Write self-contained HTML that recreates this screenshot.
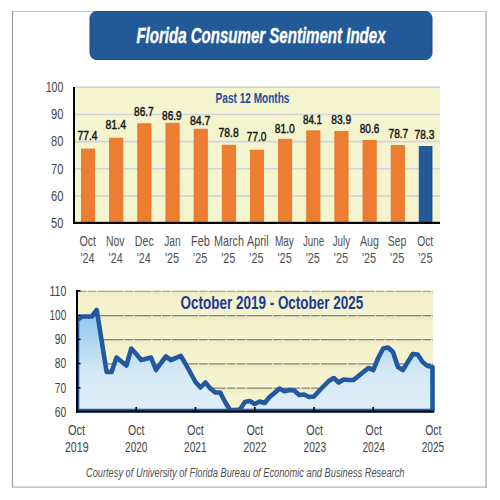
<!DOCTYPE html>
<html><head><meta charset="utf-8"><style>
html,body{margin:0;padding:0;background:#fff;width:500px;height:500px;overflow:hidden}
svg{display:block}
</style></head><body>
<svg width="500" height="500" viewBox="0 0 500 500">
<defs><linearGradient id="fillg" x1="0" y1="0" x2="0" y2="1"><stop offset="0" stop-color="#8cc4ea"/><stop offset="0.62" stop-color="#d5e9f6"/><stop offset="1" stop-color="#deeef8"/></linearGradient><linearGradient id="bandg" x1="0" y1="0" x2="0" y2="1"><stop offset="0" stop-color="#ebeac4"/><stop offset="1" stop-color="#f4f3cd"/></linearGradient><clipPath id="pc"><rect x="76" y="280" width="364" height="132.6"/></clipPath></defs>
<rect x="0" y="0" width="500" height="500" fill="#ffffff"/>
<line x1="12" y1="11.5" x2="486" y2="11.5" stroke="#c8c8c8" stroke-width="1"/>
<line x1="12.5" y1="11" x2="12.5" y2="487.6" stroke="#a2a2a2" stroke-width="1.3"/>
<line x1="486" y1="11" x2="486" y2="488" stroke="#c6c6c6" stroke-width="2"/>
<line x1="12" y1="487.1" x2="487" y2="487.1" stroke="#b4b4b4" stroke-width="1.3"/>
<rect x="90" y="11.5" width="342" height="48" rx="6.5" ry="6.5" fill="#225a97" stroke="#1a4b92" stroke-width="1"/>
<rect x="74" y="87" width="366" height="136" fill="#f4f4cf"/>
<line x1="74" y1="87.30" x2="440" y2="87.30" stroke="#cfcfd0" stroke-width="1.6"/>
<line x1="74" y1="114.44" x2="440" y2="114.44" stroke="#d2d3dc" stroke-width="1.6"/>
<line x1="74" y1="141.58" x2="440" y2="141.58" stroke="#d2d3dc" stroke-width="1.6"/>
<line x1="74" y1="168.72" x2="440" y2="168.72" stroke="#d2d3dc" stroke-width="1.6"/>
<line x1="74" y1="195.86" x2="440" y2="195.86" stroke="#d2d3dc" stroke-width="1.6"/>
<rect x="81.48" y="149.04" width="13.20" height="74.36" fill="#ed7d31" stroke="#e5721f" stroke-width="0.8"/>
<rect x="109.63" y="138.18" width="13.20" height="85.22" fill="#ed7d31" stroke="#e5721f" stroke-width="0.8"/>
<rect x="137.78" y="123.80" width="13.20" height="99.60" fill="#ed7d31" stroke="#e5721f" stroke-width="0.8"/>
<rect x="165.94" y="123.25" width="13.20" height="100.15" fill="#ed7d31" stroke="#e5721f" stroke-width="0.8"/>
<rect x="194.09" y="129.22" width="13.20" height="94.18" fill="#ed7d31" stroke="#e5721f" stroke-width="0.8"/>
<rect x="222.25" y="145.24" width="13.20" height="78.16" fill="#ed7d31" stroke="#e5721f" stroke-width="0.8"/>
<rect x="250.40" y="150.12" width="13.20" height="73.28" fill="#ed7d31" stroke="#e5721f" stroke-width="0.8"/>
<rect x="278.55" y="139.27" width="13.20" height="84.13" fill="#ed7d31" stroke="#e5721f" stroke-width="0.8"/>
<rect x="306.71" y="130.85" width="13.20" height="92.55" fill="#ed7d31" stroke="#e5721f" stroke-width="0.8"/>
<rect x="334.86" y="131.40" width="13.20" height="92.00" fill="#ed7d31" stroke="#e5721f" stroke-width="0.8"/>
<rect x="363.02" y="140.35" width="13.20" height="83.05" fill="#ed7d31" stroke="#e5721f" stroke-width="0.8"/>
<rect x="391.17" y="145.51" width="13.20" height="77.89" fill="#ed7d31" stroke="#e5721f" stroke-width="0.8"/>
<rect x="419.20" y="146.59" width="12.80" height="76.81" fill="#245a99" stroke="#0f4196" stroke-width="0.8"/>
<rect x="73" y="87" width="2" height="137" fill="#000"/>
<rect x="73" y="221.8" width="367" height="2.2" fill="#000"/>
<rect x="78" y="291" width="355" height="120.5" fill="#f4f3cd"/>
<rect x="78" y="291.90" width="355" height="6" fill="url(#bandg)"/>
<line x1="78" y1="290.20" x2="433" y2="290.20" stroke="#fcfce6" stroke-width="1"/>
<line x1="78" y1="291.30" x2="433" y2="291.30" stroke="#a9a796" stroke-width="1.25" stroke-dasharray="8.5 1.2 8.5 1.2 26 1.2 8.5 1.2 17 1.2"/>
<rect x="78" y="316.10" width="355" height="6" fill="url(#bandg)"/>
<line x1="78" y1="314.40" x2="433" y2="314.40" stroke="#fcfce6" stroke-width="1"/>
<line x1="78" y1="315.50" x2="433" y2="315.50" stroke="#84826f" stroke-width="1.25" stroke-dasharray="8.5 1.2 8.5 1.2 26 1.2 8.5 1.2 17 1.2"/>
<rect x="78" y="340.30" width="355" height="6" fill="url(#bandg)"/>
<line x1="78" y1="338.60" x2="433" y2="338.60" stroke="#fcfce6" stroke-width="1"/>
<line x1="78" y1="339.70" x2="433" y2="339.70" stroke="#84826f" stroke-width="1.25" stroke-dasharray="8.5 1.2 8.5 1.2 26 1.2 8.5 1.2 17 1.2"/>
<rect x="78" y="364.50" width="355" height="6" fill="url(#bandg)"/>
<line x1="78" y1="362.80" x2="433" y2="362.80" stroke="#fcfce6" stroke-width="1"/>
<line x1="78" y1="363.90" x2="433" y2="363.90" stroke="#84826f" stroke-width="1.25" stroke-dasharray="8.5 1.2 8.5 1.2 26 1.2 8.5 1.2 17 1.2"/>
<rect x="78" y="388.70" width="355" height="6" fill="url(#bandg)"/>
<line x1="78" y1="387.00" x2="433" y2="387.00" stroke="#fcfce6" stroke-width="1"/>
<line x1="78" y1="388.10" x2="433" y2="388.10" stroke="#84826f" stroke-width="1.25" stroke-dasharray="8.5 1.2 8.5 1.2 26 1.2 8.5 1.2 17 1.2"/>
<polygon points="77.00,411 77.00,320.00 81.94,316.50 86.88,316.50 91.81,316.50 96.75,310.00 101.69,341.00 106.62,372.00 111.56,372.00 116.50,357.50 121.44,361.50 126.38,365.50 131.31,348.50 136.25,354.00 141.19,360.00 146.12,358.70 151.06,357.50 156.00,370.00 160.94,363.00 165.88,356.50 170.81,360.00 175.75,358.00 180.69,355.80 185.62,364.00 190.56,373.00 195.50,382.00 200.44,387.50 205.38,382.50 210.31,388.50 215.25,392.50 220.19,392.50 225.12,402.00 230.06,410.00 235.00,410.00 239.94,409.50 244.88,402.00 249.81,401.00 254.75,404.00 259.69,401.50 264.62,403.00 269.56,397.00 274.50,393.00 279.44,388.50 284.38,391.20 289.31,390.00 294.25,390.50 299.19,395.00 304.12,394.50 309.06,397.00 314.00,396.50 318.94,391.00 323.88,386.00 328.81,381.00 333.75,378.00 338.69,382.50 343.62,379.50 348.56,380.00 353.50,380.00 358.44,376.00 363.38,372.00 368.31,368.00 373.25,370.00 378.19,358.00 383.12,348.50 388.06,347.50 393.00,352.00 397.94,367.00 402.88,370.00 407.81,362.00 412.75,354.00 417.69,354.50 422.62,362.00 427.56,366.00 432.50,367.00 432.50,411" fill="url(#fillg)" stroke="#21589f" stroke-width="4.6" stroke-linejoin="round" clip-path="url(#pc)"/>
<rect x="76" y="290" width="2" height="122.5" fill="#000"/>
<rect x="76" y="410.6" width="358" height="2" fill="#000"/>
<rect x="76" y="290" width="4.5" height="1.6" fill="#000"/>
<rect x="76" y="314.50" width="4.5" height="1.4" fill="#000"/>
<rect x="76" y="338.70" width="4.5" height="1.4" fill="#000"/>
<rect x="76" y="362.90" width="4.5" height="1.4" fill="#000"/>
<rect x="76" y="387.10" width="4.5" height="1.4" fill="#000"/>
<rect x="135.45" y="407" width="1.6" height="5" fill="#000"/>
<rect x="194.70" y="407" width="1.6" height="5" fill="#000"/>
<rect x="253.95" y="407" width="1.6" height="5" fill="#000"/>
<rect x="313.20" y="407" width="1.6" height="5" fill="#000"/>
<rect x="372.45" y="407" width="1.6" height="5" fill="#000"/>
<text x="136.41" y="42.80" font-family='"Liberation Sans", sans-serif' font-size="21.24" font-weight="bold" font-style="italic" fill="#ffffff" stroke="#ffffff" stroke-width="0.35" textLength="249.15" lengthAdjust="spacingAndGlyphs">Florida Consumer Sentiment Index</text>
<text x="77.59" y="140.00" font-family='"Liberation Sans", sans-serif' font-size="13.60" font-weight="normal" font-style="normal" fill="#141414" stroke="#141414" stroke-width="0.45" textLength="19.96" lengthAdjust="spacingAndGlyphs">77.4</text>
<text x="79.47" y="245.50" font-family='"Liberation Sans", sans-serif' font-size="15.00" font-weight="normal" font-style="normal" fill="#505050" textLength="16.60" lengthAdjust="spacingAndGlyphs">Oct</text>
<text x="80.44" y="262.70" font-family='"Liberation Sans", sans-serif' font-size="15.00" font-weight="normal" font-style="normal" fill="#505050" textLength="14.05" lengthAdjust="spacingAndGlyphs">&#x27;24</text>
<text x="105.50" y="128.80" font-family='"Liberation Sans", sans-serif' font-size="13.60" font-weight="normal" font-style="normal" fill="#141414" stroke="#141414" stroke-width="0.45" textLength="20.55" lengthAdjust="spacingAndGlyphs">81.4</text>
<text x="105.99" y="245.50" font-family='"Liberation Sans", sans-serif' font-size="15.00" font-weight="normal" font-style="normal" fill="#505050" textLength="18.55" lengthAdjust="spacingAndGlyphs">Nov</text>
<text x="108.59" y="262.70" font-family='"Liberation Sans", sans-serif' font-size="15.00" font-weight="normal" font-style="normal" fill="#505050" textLength="14.05" lengthAdjust="spacingAndGlyphs">&#x27;24</text>
<text x="134.02" y="116.00" font-family='"Liberation Sans", sans-serif' font-size="13.60" font-weight="normal" font-style="normal" fill="#141414" stroke="#141414" stroke-width="0.45" textLength="19.65" lengthAdjust="spacingAndGlyphs">86.7</text>
<text x="134.87" y="245.50" font-family='"Liberation Sans", sans-serif' font-size="15.00" font-weight="normal" font-style="normal" fill="#505050" textLength="18.94" lengthAdjust="spacingAndGlyphs">Dec</text>
<text x="136.75" y="262.70" font-family='"Liberation Sans", sans-serif' font-size="15.00" font-weight="normal" font-style="normal" fill="#505050" textLength="14.05" lengthAdjust="spacingAndGlyphs">&#x27;24</text>
<text x="162.02" y="119.50" font-family='"Liberation Sans", sans-serif' font-size="13.60" font-weight="normal" font-style="normal" fill="#141414" stroke="#141414" stroke-width="0.45" textLength="19.65" lengthAdjust="spacingAndGlyphs">86.9</text>
<text x="164.17" y="245.50" font-family='"Liberation Sans", sans-serif' font-size="15.00" font-weight="normal" font-style="normal" fill="#505050" textLength="16.47" lengthAdjust="spacingAndGlyphs">Jan</text>
<text x="164.89" y="262.70" font-family='"Liberation Sans", sans-serif' font-size="15.00" font-weight="normal" font-style="normal" fill="#505050" textLength="14.19" lengthAdjust="spacingAndGlyphs">&#x27;25</text>
<text x="190.01" y="125.30" font-family='"Liberation Sans", sans-serif' font-size="13.60" font-weight="normal" font-style="normal" fill="#141414" stroke="#141414" stroke-width="0.45" textLength="20.48" lengthAdjust="spacingAndGlyphs">84.7</text>
<text x="191.05" y="245.50" font-family='"Liberation Sans", sans-serif' font-size="15.00" font-weight="normal" font-style="normal" fill="#505050" textLength="18.78" lengthAdjust="spacingAndGlyphs">Feb</text>
<text x="193.05" y="262.70" font-family='"Liberation Sans", sans-serif' font-size="15.00" font-weight="normal" font-style="normal" fill="#505050" textLength="14.19" lengthAdjust="spacingAndGlyphs">&#x27;25</text>
<text x="218.48" y="137.10" font-family='"Liberation Sans", sans-serif' font-size="13.60" font-weight="normal" font-style="normal" fill="#141414" stroke="#141414" stroke-width="0.45" textLength="20.31" lengthAdjust="spacingAndGlyphs">78.8</text>
<text x="214.06" y="245.50" font-family='"Liberation Sans", sans-serif' font-size="15.00" font-weight="normal" font-style="normal" fill="#505050" textLength="29.96" lengthAdjust="spacingAndGlyphs">March</text>
<text x="221.20" y="262.70" font-family='"Liberation Sans", sans-serif' font-size="15.00" font-weight="normal" font-style="normal" fill="#505050" textLength="14.19" lengthAdjust="spacingAndGlyphs">&#x27;25</text>
<text x="246.80" y="140.80" font-family='"Liberation Sans", sans-serif' font-size="13.60" font-weight="normal" font-style="normal" fill="#141414" stroke="#141414" stroke-width="0.45" textLength="19.65" lengthAdjust="spacingAndGlyphs">77.0</text>
<text x="246.90" y="245.50" font-family='"Liberation Sans", sans-serif' font-size="15.00" font-weight="normal" font-style="normal" fill="#505050" textLength="21.79" lengthAdjust="spacingAndGlyphs">April</text>
<text x="249.36" y="262.70" font-family='"Liberation Sans", sans-serif' font-size="15.00" font-weight="normal" font-style="normal" fill="#505050" textLength="14.19" lengthAdjust="spacingAndGlyphs">&#x27;25</text>
<text x="274.71" y="133.30" font-family='"Liberation Sans", sans-serif' font-size="13.60" font-weight="normal" font-style="normal" fill="#141414" stroke="#141414" stroke-width="0.45" textLength="20.04" lengthAdjust="spacingAndGlyphs">81.0</text>
<text x="274.93" y="245.50" font-family='"Liberation Sans", sans-serif' font-size="15.00" font-weight="normal" font-style="normal" fill="#505050" textLength="18.89" lengthAdjust="spacingAndGlyphs">May</text>
<text x="277.51" y="262.70" font-family='"Liberation Sans", sans-serif' font-size="15.00" font-weight="normal" font-style="normal" fill="#505050" textLength="14.19" lengthAdjust="spacingAndGlyphs">&#x27;25</text>
<text x="302.93" y="124.00" font-family='"Liberation Sans", sans-serif' font-size="13.60" font-weight="normal" font-style="normal" fill="#141414" stroke="#141414" stroke-width="0.45" textLength="19.13" lengthAdjust="spacingAndGlyphs">84.1</text>
<text x="302.98" y="245.50" font-family='"Liberation Sans", sans-serif' font-size="15.00" font-weight="normal" font-style="normal" fill="#505050" textLength="21.25" lengthAdjust="spacingAndGlyphs">June</text>
<text x="305.66" y="262.70" font-family='"Liberation Sans", sans-serif' font-size="15.00" font-weight="normal" font-style="normal" fill="#505050" textLength="14.19" lengthAdjust="spacingAndGlyphs">&#x27;25</text>
<text x="331.22" y="123.70" font-family='"Liberation Sans", sans-serif' font-size="13.60" font-weight="normal" font-style="normal" fill="#141414" stroke="#141414" stroke-width="0.45" textLength="19.96" lengthAdjust="spacingAndGlyphs">83.9</text>
<text x="332.68" y="245.50" font-family='"Liberation Sans", sans-serif' font-size="15.00" font-weight="normal" font-style="normal" fill="#505050" textLength="17.36" lengthAdjust="spacingAndGlyphs">July</text>
<text x="333.82" y="262.70" font-family='"Liberation Sans", sans-serif' font-size="15.00" font-weight="normal" font-style="normal" fill="#505050" textLength="14.19" lengthAdjust="spacingAndGlyphs">&#x27;25</text>
<text x="359.72" y="132.80" font-family='"Liberation Sans", sans-serif' font-size="13.60" font-weight="normal" font-style="normal" fill="#141414" stroke="#141414" stroke-width="0.45" textLength="19.65" lengthAdjust="spacingAndGlyphs">80.6</text>
<text x="359.90" y="245.50" font-family='"Liberation Sans", sans-serif' font-size="15.00" font-weight="normal" font-style="normal" fill="#505050" textLength="19.01" lengthAdjust="spacingAndGlyphs">Aug</text>
<text x="361.97" y="262.70" font-family='"Liberation Sans", sans-serif' font-size="15.00" font-weight="normal" font-style="normal" fill="#505050" textLength="14.19" lengthAdjust="spacingAndGlyphs">&#x27;25</text>
<text x="388.49" y="138.40" font-family='"Liberation Sans", sans-serif' font-size="13.60" font-weight="normal" font-style="normal" fill="#141414" stroke="#141414" stroke-width="0.45" textLength="19.78" lengthAdjust="spacingAndGlyphs">78.7</text>
<text x="387.78" y="245.50" font-family='"Liberation Sans", sans-serif' font-size="15.00" font-weight="normal" font-style="normal" fill="#505050" textLength="18.45" lengthAdjust="spacingAndGlyphs">Sep</text>
<text x="390.12" y="262.70" font-family='"Liberation Sans", sans-serif' font-size="15.00" font-weight="normal" font-style="normal" fill="#505050" textLength="14.19" lengthAdjust="spacingAndGlyphs">&#x27;25</text>
<text x="414.59" y="139.20" font-family='"Liberation Sans", sans-serif' font-size="13.60" font-weight="normal" font-style="normal" fill="#141414" stroke="#141414" stroke-width="0.45" textLength="19.78" lengthAdjust="spacingAndGlyphs">78.3</text>
<text x="417.19" y="245.50" font-family='"Liberation Sans", sans-serif' font-size="15.00" font-weight="normal" font-style="normal" fill="#505050" textLength="15.97" lengthAdjust="spacingAndGlyphs">Oct</text>
<text x="418.28" y="262.70" font-family='"Liberation Sans", sans-serif' font-size="15.00" font-weight="normal" font-style="normal" fill="#505050" textLength="14.19" lengthAdjust="spacingAndGlyphs">&#x27;25</text>
<text x="45.70" y="92.10" font-family='"Liberation Sans", sans-serif' font-size="15.30" font-weight="normal" font-style="normal" fill="#454545" textLength="17.76" lengthAdjust="spacingAndGlyphs">100</text>
<text x="50.94" y="119.24" font-family='"Liberation Sans", sans-serif' font-size="15.30" font-weight="normal" font-style="normal" fill="#454545" textLength="12.48" lengthAdjust="spacingAndGlyphs">90</text>
<text x="51.08" y="146.38" font-family='"Liberation Sans", sans-serif' font-size="15.30" font-weight="normal" font-style="normal" fill="#454545" textLength="12.33" lengthAdjust="spacingAndGlyphs">80</text>
<text x="50.94" y="173.52" font-family='"Liberation Sans", sans-serif' font-size="15.30" font-weight="normal" font-style="normal" fill="#454545" textLength="12.48" lengthAdjust="spacingAndGlyphs">70</text>
<text x="50.94" y="200.66" font-family='"Liberation Sans", sans-serif' font-size="15.30" font-weight="normal" font-style="normal" fill="#454545" textLength="12.48" lengthAdjust="spacingAndGlyphs">60</text>
<text x="51.08" y="227.80" font-family='"Liberation Sans", sans-serif' font-size="15.30" font-weight="normal" font-style="normal" fill="#454545" textLength="12.33" lengthAdjust="spacingAndGlyphs">50</text>
<text x="215.57" y="102.80" font-family='"Liberation Sans", sans-serif' font-size="14.86" font-weight="bold" font-style="normal" fill="#1f4f9c" textLength="73.91" lengthAdjust="spacingAndGlyphs">Past 12 Months</text>
<text x="180.49" y="309.00" font-family='"Liberation Sans", sans-serif' font-size="19.14" font-weight="bold" font-style="normal" fill="#1b3b93" textLength="182.83" lengthAdjust="spacingAndGlyphs">October 2019 - October 2025</text>
<text x="49.41" y="295.80" font-family='"Liberation Sans", sans-serif' font-size="15.00" font-weight="normal" font-style="normal" fill="#454545" textLength="16.86" lengthAdjust="spacingAndGlyphs">110</text>
<text x="49.45" y="320.00" font-family='"Liberation Sans", sans-serif' font-size="15.00" font-weight="normal" font-style="normal" fill="#454545" textLength="16.80" lengthAdjust="spacingAndGlyphs">100</text>
<text x="54.68" y="344.20" font-family='"Liberation Sans", sans-serif' font-size="15.00" font-weight="normal" font-style="normal" fill="#454545" textLength="11.50" lengthAdjust="spacingAndGlyphs">90</text>
<text x="54.82" y="368.40" font-family='"Liberation Sans", sans-serif' font-size="15.00" font-weight="normal" font-style="normal" fill="#454545" textLength="11.37" lengthAdjust="spacingAndGlyphs">80</text>
<text x="54.68" y="392.60" font-family='"Liberation Sans", sans-serif' font-size="15.00" font-weight="normal" font-style="normal" fill="#454545" textLength="11.50" lengthAdjust="spacingAndGlyphs">70</text>
<text x="54.68" y="416.80" font-family='"Liberation Sans", sans-serif' font-size="15.00" font-weight="normal" font-style="normal" fill="#454545" textLength="11.50" lengthAdjust="spacingAndGlyphs">60</text>
<text x="67.95" y="434.80" font-family='"Liberation Sans", sans-serif' font-size="14.80" font-weight="normal" font-style="normal" fill="#444" textLength="17.11" lengthAdjust="spacingAndGlyphs">Oct</text>
<text x="64.97" y="452.00" font-family='"Liberation Sans", sans-serif' font-size="14.80" font-weight="normal" font-style="normal" fill="#444" textLength="23.55" lengthAdjust="spacingAndGlyphs">2019</text>
<text x="128.08" y="434.80" font-family='"Liberation Sans", sans-serif' font-size="14.80" font-weight="normal" font-style="normal" fill="#444" textLength="16.28" lengthAdjust="spacingAndGlyphs">Oct</text>
<text x="125.10" y="452.00" font-family='"Liberation Sans", sans-serif' font-size="14.80" font-weight="normal" font-style="normal" fill="#444" textLength="22.27" lengthAdjust="spacingAndGlyphs">2020</text>
<text x="187.06" y="434.80" font-family='"Liberation Sans", sans-serif' font-size="14.80" font-weight="normal" font-style="normal" fill="#444" textLength="16.80" lengthAdjust="spacingAndGlyphs">Oct</text>
<text x="183.99" y="452.00" font-family='"Liberation Sans", sans-serif' font-size="14.80" font-weight="normal" font-style="normal" fill="#444" textLength="22.61" lengthAdjust="spacingAndGlyphs">2021</text>
<text x="246.46" y="434.80" font-family='"Liberation Sans", sans-serif' font-size="14.80" font-weight="normal" font-style="normal" fill="#444" textLength="16.80" lengthAdjust="spacingAndGlyphs">Oct</text>
<text x="243.48" y="452.00" font-family='"Liberation Sans", sans-serif' font-size="14.80" font-weight="normal" font-style="normal" fill="#444" textLength="23.14" lengthAdjust="spacingAndGlyphs">2022</text>
<text x="306.26" y="434.80" font-family='"Liberation Sans", sans-serif' font-size="14.80" font-weight="normal" font-style="normal" fill="#444" textLength="16.80" lengthAdjust="spacingAndGlyphs">Oct</text>
<text x="303.49" y="452.00" font-family='"Liberation Sans", sans-serif' font-size="14.80" font-weight="normal" font-style="normal" fill="#444" textLength="22.61" lengthAdjust="spacingAndGlyphs">2023</text>
<text x="365.26" y="434.80" font-family='"Liberation Sans", sans-serif' font-size="14.80" font-weight="normal" font-style="normal" fill="#444" textLength="16.80" lengthAdjust="spacingAndGlyphs">Oct</text>
<text x="362.50" y="452.00" font-family='"Liberation Sans", sans-serif' font-size="14.80" font-weight="normal" font-style="normal" fill="#444" textLength="22.45" lengthAdjust="spacingAndGlyphs">2024</text>
<text x="425.28" y="434.80" font-family='"Liberation Sans", sans-serif' font-size="14.80" font-weight="normal" font-style="normal" fill="#444" textLength="16.18" lengthAdjust="spacingAndGlyphs">Oct</text>
<text x="421.69" y="452.00" font-family='"Liberation Sans", sans-serif' font-size="14.80" font-weight="normal" font-style="normal" fill="#444" textLength="22.48" lengthAdjust="spacingAndGlyphs">2025</text>
<text x="85.94" y="476.80" font-family='"Liberation Sans", sans-serif' font-size="12.57" font-weight="normal" font-style="italic" fill="#505050" textLength="318.52" lengthAdjust="spacingAndGlyphs">Courtesy of University of Florida Bureau of Economic and Business Research</text>
</svg>
</body></html>
